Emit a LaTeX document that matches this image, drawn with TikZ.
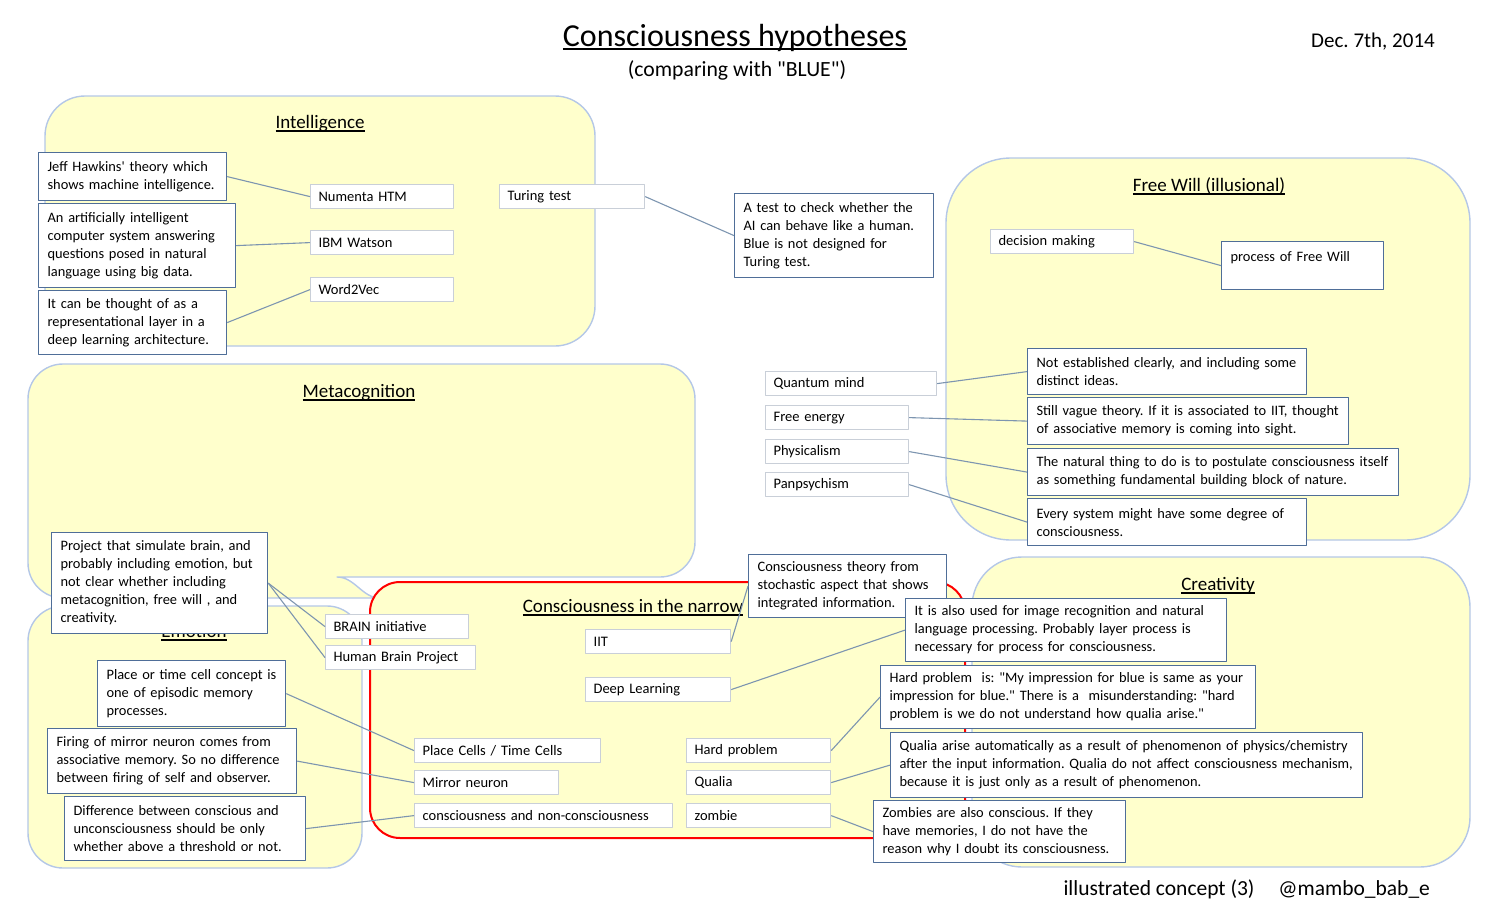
\documentclass[tikz,border=0pt]{standalone}
\usepackage{fontspec}
\setmainfont{Carlito}
\definecolor{regionfill}{HTML}{FFFFCC}
\definecolor{regionline}{HTML}{B4C7E7}
\definecolor{descline}{HTML}{4F6E98}
\definecolor{lblline}{HTML}{C9CFD8}
\definecolor{linkline}{HTML}{7D95B0}
\frenchspacing
\hyphenpenalty=10000 \exhyphenpenalty=10000
% underlined heading with a visible rule
\newcommand\undl[2][1.3pt]{\setbox0=\hbox{#2}\rlap{\rule[-3.5pt]{\wd0}{#1}}\box0}
\def\qq{\textquotedbl}
\begin{document}
\begin{tikzpicture}[x=1pt,y=-1pt,line join=round,
	region/.style={draw=regionline,fill=regionfill,line width=1.4pt},
	desc/.style={draw=descline,fill=white,line width=1.2pt,anchor=north west,align=left,inner xsep=9pt,inner ysep=2pt,font=\fontsize{14.4}{18}\selectfont,
		execute at begin node={\rightskip=0pt plus 1fil minus 30pt}},
	lbl/.style={draw=lblline,fill=white,line width=1.2pt,anchor=north west,align=left,inner xsep=8pt,inner ysep=2pt,minimum height=24pt,font=\fontsize{14.5}{18}\selectfont},
	heading/.style={anchor=base,font=\fontsize{19}{22}\selectfont},
	link/.style={draw=linkline,line width=1.1pt}]
	\useasboundingbox (0,0) rectangle (1500,916);
	% regions
	\draw[region,rounded corners=40pt] (45,96) rectangle (595,346);
	\draw[region,rounded corners=35pt] (28,364) -- (695,364) -- (695,577) -- (372,577) .. controls (355,577) and (362,598) .. (345,598) -- (28,598) -- cycle;
	\draw[region,rounded corners=65pt] (946,158) rectangle (1470,540);
	\draw[region,rounded corners=35pt] (28,606) rectangle (362,868);
	\draw[region,rounded corners=50pt] (972,557) rectangle (1470,867);
	\draw[red,fill=regionfill,line width=2pt,rounded corners=30pt] (370,582) rectangle (965,838);
	% headings
	\node[anchor=base,font=\fontsize{32}{37}\selectfont] (title) at (735,46) {\undl[2pt]{Consciousness hypotheses}};
	\node[anchor=base,font=\fontsize{21.7}{26}\selectfont] (subtitle) at (737,76) {(comparing with \qq BLUE\qq)};
	\node[anchor=base,font=\fontsize{21}{25}\selectfont] (date) at (1373,47) {Dec. 7th, 2014};
	\node[anchor=base west,font=\fontsize{21.5}{25}\selectfont] (credit) at (1060,895) {illustrated concept (3)\hspace{24pt}@mambo\_bab\_e};
	\node[heading] (tintel) at (320,128) {\undl{Intelligence}};
	\node[heading] (tmeta) at (359,397) {\undl{Metacognition}};
	\node[heading] (tfree) at (1209,191) {\undl{Free Will (illusional)}};
	\node[heading] (temo) at (194,637) {\undl{Emotion}};
	\node[heading] (tcrea) at (1218,590) {\undl{Creativity}};
	\node[heading] (tnarrow) at (633,612) {\undl{Consciousness in the narrow}};
	% Intelligence
	\node[lbl,text width=127pt] (numl) at (310,184) {Numenta HTM};
	\node[lbl,text width=127pt] (ibml) at (310,230) {IBM Watson};
	\node[lbl,text width=127pt] (w2vl) at (310,277) {Word2Vec};
	\node[lbl,text width=129pt] (turl) at (499,184) {Turing test};
	\node[desc,text width=170pt,minimum height=48pt] (jeffd) at (38,152) {Jeff Hawkins\textquotesingle\ theory which\\shows machine intelligence.};
	\node[desc,text width=179pt,minimum height=84pt] (ibmd) at (38,203) {An artificially intelligent\\computer system answering\\questions posed in natural\\language using big data.};
	\node[desc,text width=170pt,minimum height=64pt] (w2vd) at (38,290) {It can be thought of as a\\representational layer in a\\deep learning architecture.};
	\node[desc,text width=181pt,minimum height=84pt] (turd) at (734,193) {A test to check whether the\\AI can behave like a human.\\Blue is not designed for\\Turing test.};
	% Free Will
	\node[lbl,text width=127pt] (decl) at (990,229) {decision making};
	\node[desc,text width=144pt,minimum height=48pt] (procd) at (1221,241) {process of Free Will\\\mbox{}};
	\node[lbl,text width=155pt] (qml) at (765,371) {Quantum mind};
	\node[lbl,text width=127pt] (fel) at (765,405) {Free energy};
	\node[lbl,text width=127pt] (phl) at (765,439) {Physicalism};
	\node[lbl,text width=127pt] (pal) at (765,472) {Panpsychism};
	\node[desc,text width=261pt,minimum height=46pt] (qmd) at (1027,348) {Not established clearly, and including some\\distinct ideas.};
	\node[desc,text width=303pt,minimum height=47pt] (fed) at (1027,397) {Still vague theory. If it is associated to IIT, thought\\of associative memory is coming into sight.};
	\node[desc,text width=353pt,minimum height=47pt] (phd) at (1027,448) {The natural thing to do is to postulate consciousness itself\\as something fundamental building block of nature.};
	\node[desc,text width=261pt,minimum height=47pt] (pad) at (1027,498) {Every system might have some degree of\\consciousness.};
	% Metacognition / Emotion
	\node[lbl,text width=127pt] (brainl) at (325,614) {BRAIN initiative};
	\node[lbl,text width=134pt] (hbpl) at (325,645) {Human Brain Project};
	\node[desc,text width=198pt,minimum height=101pt] (projd) at (51,532) {Project that simulate brain, and\\probably including emotion, but\\not clear whether including\\metacognition, free will , and\\creativity.};
	\node[desc,text width=170pt,minimum height=66pt] (placed) at (97,660) {Place or time cell concept is\\one of episodic memory\\processes.};
	\node[desc,text width=231pt,minimum height=65pt] (mirrord) at (47,728) {Firing of mirror neuron comes from\\associative memory. So no difference\\between firing of self and observer.};
	\node[desc,text width=223pt,minimum height=64pt] (diffd) at (64,796) {Difference between conscious and\\unconsciousness should be only\\whether above a threshold or not.};
	% Consciousness in the narrow
	\node[lbl,text width=129pt] (iitl) at (585,629) {IIT};
	\node[lbl,text width=129pt] (dll) at (585,677) {Deep Learning};
	\node[lbl,text width=170pt] (pcl) at (414,738) {Place Cells / Time Cells};
	\node[lbl,text width=128pt] (mnl) at (414,770) {Mirror neuron};
	\node[lbl,text width=242pt] (cnl) at (414,803) {consciousness and non-consciousness};
	\node[lbl,text width=128pt] (hpl) at (686,738) {Hard problem};
	\node[lbl,text width=128pt] (qul) at (686,770) {Qualia};
	\node[lbl,text width=128pt] (zol) at (686,803) {zombie};
	\node[desc,text width=180pt,minimum height=63pt] (iitd) at (748,554) {Consciousness theory from\\stochastic aspect that shows\\integrated information.};
	\node[desc,text width=303pt,minimum height=63pt] (dld) at (905,598) {It is also used for image recognition and natural\\language processing. Probably layer process is\\necessary for process for consciousness.};
	\node[desc,text width=357pt,minimum height=63pt] (hpd) at (880,665) {Hard problem~ is: \qq My impression for blue is same as your\\impression for blue.\qq\ There is a~ misunderstanding: \qq hard\\problem is we do not understand how qualia arise.\qq};
	\node[desc,text width=454pt,minimum height=65pt] (qd) at (890,732) {Qualia arise automatically as a result of phenomenon of physics/chemistry\\after the input information. Qualia do not affect consciousness mechanism,\\because it is just only as a result of phenomenon.};
	\node[desc,text width=234pt,minimum height=62pt] (zd) at (873,800) {Zombies are also conscious. If they\\have memories, I do not have the\\reason why I doubt its consciousness.};
	% connectors
	\draw[link] (jeffd.east) -- (numl.west);
	\draw[link] (ibmd.east) -- (ibml.west);
	\draw[link] (w2vd.east) -- (w2vl.west);
	\draw[link] (turl.east) -- (turd.west);
	\draw[link] (decl.east) -- (procd.west);
	\draw[link] (qml.east) -- (qmd.west);
	\draw[link] (fel.east) -- (fed.west);
	\draw[link] (phl.east) -- (phd.west);
	\draw[link] (pal.east) -- (pad.west);
	\draw[link] (projd.east) -- (brainl.west);
	\draw[link] (projd.east) -- (hbpl.west);
	\draw[link] (placed.east) -- (pcl.west);
	\draw[link] (mirrord.east) -- (mnl.west);
	\draw[link] (diffd.east) -- (cnl.west);
	\draw[link] (iitl.east) -- (iitd.west);
	\draw[link] (dll.east) -- (dld.west);
	\draw[link] (hpl.east) -- (hpd.west);
	\draw[link] (qul.east) -- (qd.west);
	\draw[link] (zol.east) -- (zd.west);
\end{tikzpicture}
\end{document}
